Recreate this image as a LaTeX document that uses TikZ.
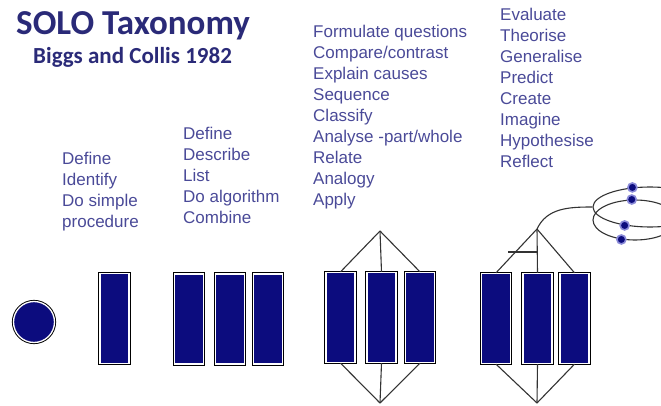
\documentclass[tikz,border=0pt]{standalone}
\usepackage{fontspec}
\setmainfont{Liberation Sans}
\newfontfamily\titlefont{Carlito}
\usetikzlibrary{shapes.geometric}
\definecolor{navy}{HTML}{0C0C7E}
\definecolor{verb}{HTML}{4A4A98}
\definecolor{heading}{HTML}{2A2A78}
\definecolor{wire}{HTML}{333333}
\definecolor{halo}{HTML}{8A8AD8}

\begin{document}
\begin{tikzpicture}[x=1pt,y=-1pt,
    block/.style={preaction={draw=black,line width=3.2pt},draw=white,line width=1.3pt,fill=navy},
    bar/.style={block,shape=rectangle,minimum width=29pt,minimum height=90pt,inner sep=0pt},
    verbs/.style={anchor=north west,inner sep=0pt,align=left,text=verb,font=\fontsize{17}{21}\selectfont},
    link/.style={draw=wire,line width=1.1pt},
    loop/.style={shape=ellipse,draw=wire,line width=1.1pt,minimum height=40pt,inner sep=0pt},
    dot/.style={shape=circle,fill=navy,draw=halo,line width=1.6pt,inner sep=0pt,minimum size=9pt}]
    \useasboundingbox (0,0) rectangle (661,406);
    \clip (0,0) rectangle (661,406);
    % headings
    \node[anchor=base west,inner sep=0pt,text=heading,font=\titlefont\bfseries\fontsize{35}{40}\selectfont] (title) at (16,35) {SOLO Taxonomy};
    \node[anchor=base west,inner sep=0pt,text=heading,font=\titlefont\bfseries\fontsize{23}{28}\selectfont] (authors) at (33,64) {Biggs and Collis 1982};
    % verbs
    \node[verbs] (uni) at (62,152) {Define\\Identify\\Do simple\\procedure};
    \node[verbs] (multi) at (183,127) {Define\\Describe\\List\\Do algorithm\\Combine};
    \node[verbs] (rel) at (313,25) {Formulate questions\\Compare/contrast\\Explain causes\\Sequence\\Classify\\Analyse -part/whole\\Relate\\Analogy\\Apply};
    \node[verbs] (ext) at (500,8) {Evaluate\\Theorise\\Generalise\\Predict\\Create\\Imagine\\Hypothesise\\Reflect};
    % structures
    \node[block,shape=circle,minimum size=41pt,inner sep=0pt] (pre) at (34,322) {};
    \node[bar] (u1) at (114.5,318.5) {};
    \node[bar] (m1) at (189,319) {};
    \node[bar] (m2) at (230,319) {};
    \node[bar] (m3) at (268,319) {};
    \node[bar] (r1) at (340.5,317.5) {};
    \node[bar] (r2) at (381.5,317.5) {};
    \node[bar] (r3) at (420,317.5) {};
    \node[bar] (x1) at (496,318.5) {};
    \node[bar] (x2) at (537.5,318.5) {};
    \node[bar] (x3) at (574.5,318.5) {};
    \coordinate (rt) at (380,231);
    \coordinate (rb) at (380,403);
    \coordinate (xt) at (537,229);
    \coordinate (xb) at (537,403);
    \coordinate (tick) at (508,252);
    \node[loop,minimum width=114pt] (la) at (650,207) {};
    \node[loop,minimum width=84pt] (lb) at (635,220) {};
    \path[link] (rt) edge (r1.north) edge (r2.north) edge (r3.north);
    \path[link] (rb) edge (r1.south) edge (r2.south) edge (r3.south);
    \path[link] (xt) edge (x1.north) edge (x2.north) edge (x3.north);
    \path[link] (xb) edge (x1.south) edge (x2.south) edge (x3.south);
    \path[link] (tick) edge (xt |- tick);
    \path[link] (xt) edge[out=65,in=180] (la.west);
    \node[dot] (d1) at (la.132) {};
    \node[dot] (d2) at (lb.99) {};
    \node[dot] (d3) at (la.216) {};
    \node[dot] (d4) at (lb.235) {};
\end{tikzpicture}
\end{document}
